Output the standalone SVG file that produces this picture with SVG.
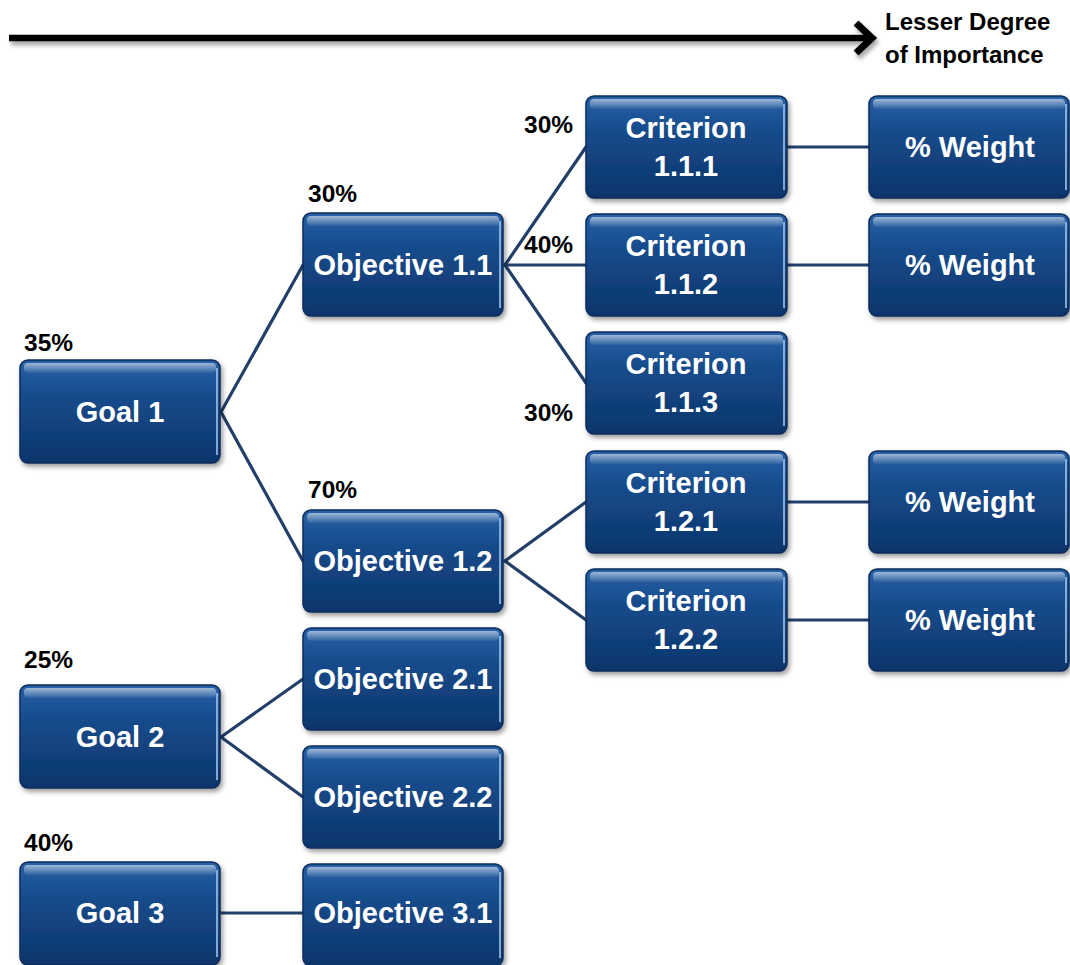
<svg xmlns="http://www.w3.org/2000/svg" width="1070" height="965" viewBox="0 0 1070 965">
<defs>
<linearGradient id="boxg" x1="0" y1="0" x2="0" y2="1">
<stop offset="0" stop-color="#2760a6"/>
<stop offset="0.35" stop-color="#174b8b"/>
<stop offset="1" stop-color="#0c356b"/>
</linearGradient>
<linearGradient id="hl" x1="0" y1="0" x2="0" y2="1">
<stop offset="0" stop-color="#ffffff" stop-opacity="0.55"/>
<stop offset="1" stop-color="#ffffff" stop-opacity="0.05"/>
</linearGradient>
<filter id="sh" x="-10%" y="-10%" width="125%" height="130%">
<feDropShadow dx="2" dy="3" stdDeviation="2.5" flood-color="#000" flood-opacity="0.4"/>
</filter>
<filter id="lsh" x="-2%" y="-100%" width="104%" height="400%">
<feDropShadow dx="2" dy="4" stdDeviation="2" flood-color="#000" flood-opacity="0.35"/>
</filter>
</defs>
<style>
.box{fill:url(#boxg);stroke:#0b2c5a;stroke-width:1.5;filter:url(#sh)}
.hl{fill:url(#hl)}
.edge{stroke:#9cc3ef;stroke-width:2;opacity:0.8}
.bt{font-family:"Liberation Sans",Arial,sans-serif;font-weight:bold;font-size:29px;fill:#ffffff;text-anchor:middle}
.pct{font-family:"Liberation Sans",Arial,sans-serif;font-weight:bold;font-size:24.5px;fill:#000000}
.hd{font-family:"Liberation Sans",Arial,sans-serif;font-weight:bold;font-size:24px;fill:#000000}
.con line{stroke:#213f68;stroke-width:3.2;stroke-linecap:round}
</style>
<rect width="1070" height="965" fill="#ffffff"/>

<g id="axis" filter="url(#lsh)">
<line x1="9" y1="38" x2="868" y2="38" stroke="#000" stroke-width="6.5"/>
<polyline points="856,23 872,38 856,53" fill="none" stroke="#000" stroke-width="7" stroke-linejoin="miter"/>
</g>
<text class="hd" x="885" y="30">Lesser Degree</text>
<text class="hd" x="885" y="63">of Importance</text>

<g id="connectors" class="con">
<line x1="221" y1="412" x2="303" y2="265"/>
<line x1="221" y1="412" x2="303" y2="561"/>
<line x1="505" y1="265" x2="586" y2="147"/>
<line x1="505" y1="265" x2="586" y2="265"/>
<line x1="505" y1="265" x2="586" y2="383"/>
<line x1="505" y1="561" x2="586" y2="502"/>
<line x1="505" y1="561" x2="586" y2="620"/>
<line x1="221" y1="737" x2="303" y2="679"/>
<line x1="221" y1="737" x2="303" y2="797"/>
<line x1="221" y1="913" x2="303" y2="913"/>
<line x1="787" y1="147" x2="869" y2="147"/>
<line x1="787" y1="265" x2="869" y2="265"/>
<line x1="787" y1="502" x2="869" y2="502"/>
<line x1="787" y1="620" x2="869" y2="620"/>
</g>

<g id="pcts">
<text class="pct" x="24" y="351">35%</text>
<text class="pct" x="308" y="202">30%</text>
<text class="pct" x="308" y="498">70%</text>
<text class="pct" x="24" y="668">25%</text>
<text class="pct" x="24" y="851">40%</text>
<text class="pct" x="524" y="133">30%</text>
<text class="pct" x="524" y="253">40%</text>
<text class="pct" x="524" y="421">30%</text>
</g>

<g id="goal1"><rect class="box" x="20" y="360" width="200" height="103" rx="8"/><rect class="hl" x="24" y="363" width="192" height="10" rx="4"/><line class="edge" x1="217" y1="368" x2="217" y2="455"/><text class="bt" x="120" y="422">Goal 1</text></g>
<g id="goal2"><rect class="box" x="20" y="685" width="200" height="103" rx="8"/><rect class="hl" x="24" y="688" width="192" height="10" rx="4"/><line class="edge" x1="217" y1="693" x2="217" y2="780"/><text class="bt" x="120" y="747">Goal 2</text></g>
<g id="goal3"><rect class="box" x="20" y="862" width="200" height="103" rx="8"/><rect class="hl" x="24" y="865" width="192" height="10" rx="4"/><line class="edge" x1="217" y1="870" x2="217" y2="957"/><text class="bt" x="120" y="923">Goal 3</text></g>

<g id="obj11"><rect class="box" x="303" y="213" width="200" height="103" rx="8"/><rect class="hl" x="307" y="216" width="192" height="10" rx="4"/><line class="edge" x1="500" y1="221" x2="500" y2="308"/><text class="bt" x="403" y="275">Objective 1.1</text></g>
<g id="obj12"><rect class="box" x="303" y="510" width="200" height="102" rx="8"/><rect class="hl" x="307" y="513" width="192" height="10" rx="4"/><line class="edge" x1="500" y1="518" x2="500" y2="604"/><text class="bt" x="403" y="571">Objective 1.2</text></g>
<g id="obj21"><rect class="box" x="303" y="628" width="200" height="102" rx="8"/><rect class="hl" x="307" y="631" width="192" height="10" rx="4"/><line class="edge" x1="500" y1="636" x2="500" y2="722"/><text class="bt" x="403" y="689">Objective 2.1</text></g>
<g id="obj22"><rect class="box" x="303" y="746" width="200" height="102" rx="8"/><rect class="hl" x="307" y="749" width="192" height="10" rx="4"/><line class="edge" x1="500" y1="754" x2="500" y2="840"/><text class="bt" x="403" y="807">Objective 2.2</text></g>
<g id="obj31"><rect class="box" x="303" y="864" width="200" height="102" rx="8"/><rect class="hl" x="307" y="867" width="192" height="10" rx="4"/><line class="edge" x1="500" y1="872" x2="500" y2="958"/><text class="bt" x="403" y="923">Objective 3.1</text></g>

<g id="crit111"><rect class="box" x="586" y="96" width="201" height="102" rx="8"/><rect class="hl" x="590" y="99" width="193" height="10" rx="4"/><line class="edge" x1="784" y1="104" x2="784" y2="190"/><text class="bt" x="686" y="138">Criterion</text><text class="bt" x="686" y="176">1.1.1</text></g>
<g id="crit112"><rect class="box" x="586" y="214" width="201" height="102" rx="8"/><rect class="hl" x="590" y="217" width="193" height="10" rx="4"/><line class="edge" x1="784" y1="222" x2="784" y2="308"/><text class="bt" x="686" y="256">Criterion</text><text class="bt" x="686" y="294">1.1.2</text></g>
<g id="crit113"><rect class="box" x="586" y="332" width="201" height="102" rx="8"/><rect class="hl" x="590" y="335" width="193" height="10" rx="4"/><line class="edge" x1="784" y1="340" x2="784" y2="426"/><text class="bt" x="686" y="374">Criterion</text><text class="bt" x="686" y="412">1.1.3</text></g>
<g id="crit121"><rect class="box" x="586" y="451" width="201" height="102" rx="8"/><rect class="hl" x="590" y="454" width="193" height="10" rx="4"/><line class="edge" x1="784" y1="459" x2="784" y2="545"/><text class="bt" x="686" y="493">Criterion</text><text class="bt" x="686" y="531">1.2.1</text></g>
<g id="crit122"><rect class="box" x="586" y="569" width="201" height="102" rx="8"/><rect class="hl" x="590" y="572" width="193" height="10" rx="4"/><line class="edge" x1="784" y1="577" x2="784" y2="663"/><text class="bt" x="686" y="611">Criterion</text><text class="bt" x="686" y="649">1.2.2</text></g>

<g id="w1"><rect class="box" x="869" y="96" width="200" height="102" rx="8"/><rect class="hl" x="873" y="99" width="192" height="10" rx="4"/><line class="edge" x1="1066" y1="104" x2="1066" y2="190"/><text class="bt" x="970" y="157">% Weight</text></g>
<g id="w2"><rect class="box" x="869" y="214" width="200" height="102" rx="8"/><rect class="hl" x="873" y="217" width="192" height="10" rx="4"/><line class="edge" x1="1066" y1="222" x2="1066" y2="308"/><text class="bt" x="970" y="275">% Weight</text></g>
<g id="w3"><rect class="box" x="869" y="451" width="200" height="102" rx="8"/><rect class="hl" x="873" y="454" width="192" height="10" rx="4"/><line class="edge" x1="1066" y1="459" x2="1066" y2="545"/><text class="bt" x="970" y="512">% Weight</text></g>
<g id="w4"><rect class="box" x="869" y="569" width="200" height="102" rx="8"/><rect class="hl" x="873" y="572" width="192" height="10" rx="4"/><line class="edge" x1="1066" y1="577" x2="1066" y2="663"/><text class="bt" x="970" y="630">% Weight</text></g>
</svg>
